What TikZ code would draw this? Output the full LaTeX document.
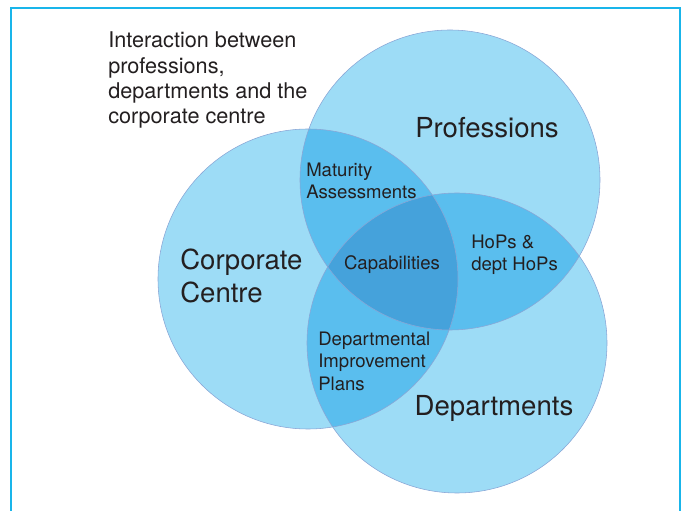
\documentclass[tikz,border=0pt]{standalone}
\usepackage{fontspec}
\setmainfont{TeX Gyre Heros}
\usepackage{xcolor}
\usetikzlibrary{positioning}

\definecolor{setlight}{HTML}{9DDCF6}
\definecolor{setmid}{HTML}{5ABEEE}
\definecolor{setdark}{HTML}{45A2DB}
\definecolor{setedge}{HTML}{8AA6D6}
\definecolor{framecyan}{HTML}{19B5EA}
\definecolor{labeltext}{HTML}{231F20}

\begin{document}
\begin{tikzpicture}[x=0.025cm, y=-0.025cm,
    setlabel/.style={text=labeltext, align=left, font=\fontsize{13.2}{16}\selectfont, inner sep=0pt},
    biglabel/.style={text=labeltext, align=left, font=\fontsize{19.6}{23.5}\selectfont, inner sep=0pt},
    outline/.style={draw=setedge, line width=0.4pt}]
    \useasboundingbox (0,0) rectangle (686,511);

    % Frame
    \draw[framecyan, line width=1.1pt] (11,530) -- (11,8) -- (680,8) -- (680,530);

    % Circles
    \fill[setlight] (450,180) circle (150);
    \fill[setlight] (308,279) circle (150);
    \fill[setlight] (457,343) circle (150);

    % Pairwise overlaps
    \begin{scope}
        \clip (450,180) circle (150);
        \fill[setmid] (308,279) circle (150);
        \fill[setmid] (457,343) circle (150);
    \end{scope}
    \begin{scope}
        \clip (308,279) circle (150);
        \fill[setmid] (457,343) circle (150);
    \end{scope}

    % Centre overlap
    \begin{scope}
        \clip (450,180) circle (150);
        \clip (308,279) circle (150);
        \fill[setdark] (457,343) circle (150);
    \end{scope}

    % Outlines
    \draw[outline] (450,180) circle (150);
    \draw[outline] (308,279) circle (150);
    \draw[outline] (457,343) circle (150);

    % Title
    \node[setlabel, anchor=west, font=\fontsize{15.4}{17.8}\selectfont] (title) at (108,80) {Interaction between\\professions,\\departments and the\\corporate centre};

    % Set names
    \node[biglabel] (professions) at (487,128) {Professions};
    \node[biglabel, anchor=west] (corporate) at (180,276) {Corporate\\Centre};
    \node[biglabel] (departments) at (494,408) {Departments};

    % Overlap labels
    \node[setlabel, anchor=west] (maturity) at (306,181) {Maturity\\Assessments};
    \node[setlabel] (capabilities) at (392,265) {Capabilities};
    \node[setlabel, anchor=west] (hops) at (471,255) {HoPs \&\\dept HoPs};
    \node[setlabel, anchor=west] (improvement) at (318,361) {Departmental\\Improvement\\Plans};
\end{tikzpicture}
\end{document}
